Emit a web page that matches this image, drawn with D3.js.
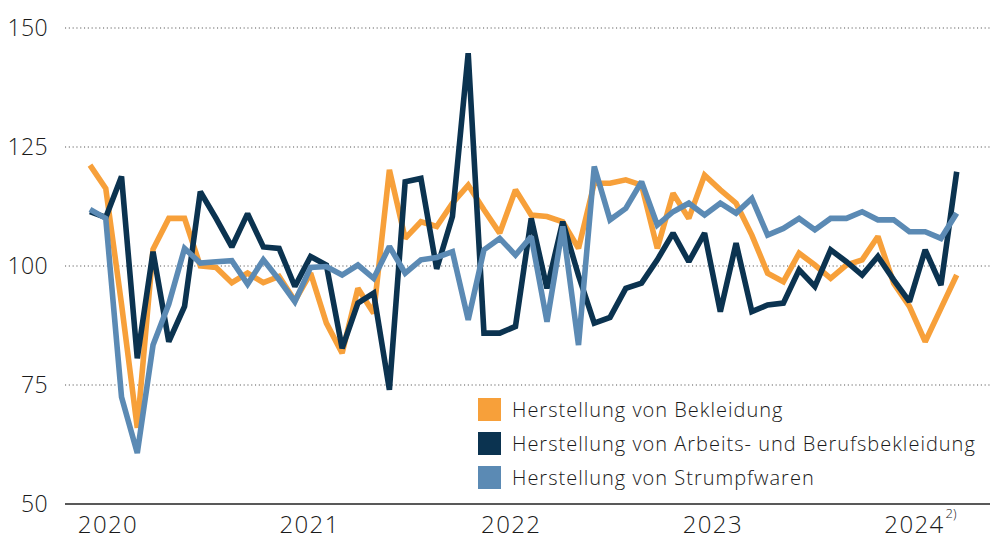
<!DOCTYPE html>
<html>
<head>
<meta charset="utf-8">
<script src="https://cdn.jsdelivr.net/npm/d3@7"></script>
<style>
  body { margin: 0; background: #fff; }
  svg { display: block; font-family: "Open Sans", sans-serif; }
</style>
</head>
<body>
<svg id="chart" width="991" height="541"></svg>
<script>
// monthly index values, Jan 2020 - Aug 2024
const months = d3.timeMonths(new Date(2020, 0, 1), new Date(2024, 8, 1)).map(d3.timeFormat('%Y-%m'))

const bekleidung = [
  121.2, 116.3, 92, 66, 103.5, 110, 110, 100, 99.7, 96.5, 98.5, 96.5,
  97.8, 92.7, 98.5, 88, 81.7, 95.3, 90.1, 120.2, 105.8, 109.3, 108.3, 113.2,
  117, 111.8, 106.9, 116, 110.7, 110.4, 109.3, 103.7, 117.4, 117.4, 118.1, 117,
  103.7, 115.3, 110, 119.1, 116, 113.2, 106.5, 98.5, 96.7, 102.7, 100.2, 97.4,
  100.2, 101.3, 106.2, 96.4, 91.5, 84.1, 91.1, 98.1
]
const arbeitsBeruf = [
  111.4, 110.2, 118.8, 80.6, 103, 84.1, 91.5, 115.6, 110, 104, 111, 104,
  103.7, 95.7, 102, 100.2, 82.7, 92.2, 94.3, 74, 117.7, 118.4, 99.4, 110.4,
  144.7, 85.9, 85.9, 87.3, 110, 95.3, 109.3, 98, 88, 89.2, 95.3, 96.4,
  101.3, 106.9, 100.9, 106.9, 90.4, 104.8, 90.4, 91.8, 92.2, 99.2, 95.7, 103.4,
  100.9, 98.1, 102, 97.1, 92.5, 103.4, 96, 119.8
]
const strumpfwaren = [
  111.9, 110, 72.5, 60.7, 83.4, 92, 103.7, 100.6, 100.9, 101.1, 96.2, 101.3,
  97.1, 92.5, 99.7, 99.9, 98.1, 100.2, 97.4, 104.1, 98.5, 101.3, 101.8, 103,
  88.7, 103.4, 105.8, 102.3, 106.2, 88.3, 108.3, 83.4, 120.9, 109.7, 112.1, 117.7,
  108.6, 111.4, 113.2, 110.7, 113.2, 111.1, 114.2, 106.5, 107.9, 110, 107.6, 110,
  110, 111.4, 109.7, 109.7, 107.2, 107.2, 105.8, 111.1
]

const seriesNames = [
  'Herstellung von Bekleidung',
  'Herstellung von Arbeits- und Berufsbekleidung',
  'Herstellung von Strumpfwaren'
]
const seriesColors = ['#f7a03a', '#0b3350', '#5b8ab4']
const yTicks = [50, 75, 100, 125, 150]
const yearLabels = ['2020', '2021', '2022', '2023', '2024']
const yearFootnote = { '2024': '2)' }

const allSeries = [bekleidung, arbeitsBeruf, strumpfwaren]

const svg = d3.select('#chart')
const plotLeft = 65
const plotRight = 990

const x = d3.scalePoint().domain(months).range([90, 956.7])
const y = d3.scaleLinear().domain([50, 150]).range([504, 28])
const xYear = d3.scalePoint().domain(yearLabels).range([108, 914.5])

// gridlines
svg.append('g')
  .selectAll('line')
  .data(yTicks.filter((d) => d > 50))
  .enter()
  .append('line')
  .attr('x1', plotLeft)
  .attr('x2', plotRight)
  .attr('y1', (d) => y(d))
  .attr('y2', (d) => y(d))
  .style('stroke', '#555')
  .style('stroke-width', 1.1)
  .style('stroke-dasharray', '1.1 2.7')

// y labels
svg.append('g')
  .selectAll('text')
  .data(yTicks)
  .enter()
  .append('text')
  .attr('x', 48)
  .attr('y', (d) => y(d))
  .attr('dy', '0.36em')
  .attr('text-anchor', 'end')
  .style('font-size', '23px')
  .style('font-weight', 300)
  .style('letter-spacing', '0.4px')
  .style('fill', '#1a1a1a')
  .text((d) => d)

// lines
const line = d3.line()
  .x((d, i) => x(months[i]))
  .y((d) => y(d))

svg.append('g')
  .selectAll('path')
  .data(allSeries)
  .enter()
  .append('path')
  .attr('d', (d) => line(d))
  .style('fill', 'none')
  .style('stroke', (d, i) => seriesColors[i])
  .style('stroke-width', 5.6)
  .style('stroke-linejoin', 'miter')
  .style('stroke-miterlimit', 2)

// x axis baseline
svg.append('line')
  .attr('x1', plotLeft)
  .attr('x2', plotRight)
  .attr('y1', y(50))
  .attr('y2', y(50))
  .style('stroke', '#222')
  .style('stroke-width', 1.5)

// year labels
const years = svg.append('g')
  .selectAll('g')
  .data(yearLabels)
  .enter()
  .append('g')

years.append('text')
  .attr('x', (d) => xYear(d))
  .attr('y', 524)
  .attr('dy', '0.36em')
  .attr('text-anchor', 'middle')
  .style('font-size', '24px')
  .style('font-weight', 300)
  .style('letter-spacing', '1.4px')
  .style('fill', '#1a1a1a')
  .text((d) => d)

years.filter((d) => yearFootnote[d])
  .append('text')
  .attr('x', (d) => xYear(d) + 31)
  .attr('y', 518)
  .style('font-size', '13px')
  .style('font-weight', 300)
  .style('fill', '#1a1a1a')
  .text((d) => yearFootnote[d])

// legend
const legend = svg.append('g')
  .selectAll('g')
  .data(seriesNames)
  .enter()
  .append('g')
  .attr('transform', (d, i) => `translate(478, ${398 + i * 34})`)

legend.append('rect')
  .attr('width', 23)
  .attr('height', 23)
  .style('fill', (d, i) => seriesColors[i])

legend.append('text')
  .attr('x', 34)
  .attr('y', 11.5)
  .attr('dy', '0.36em')
  .style('font-size', '20px')
  .style('font-weight', 300)
  .style('letter-spacing', '1px')
  .style('fill', '#1a1a1a')
  .text((d) => d)
</script>
</body>
</html>
